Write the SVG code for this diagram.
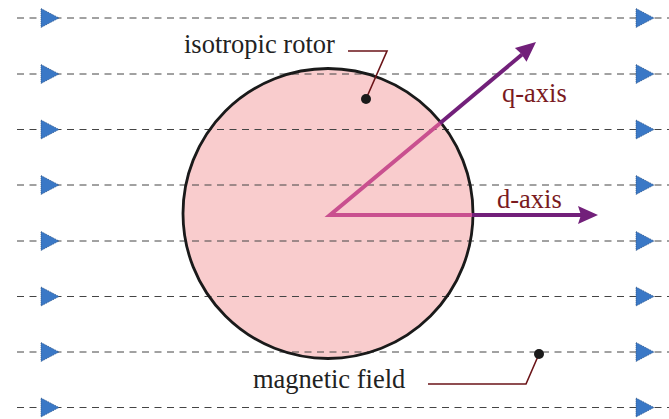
<svg xmlns="http://www.w3.org/2000/svg" width="669" height="419" viewBox="0 0 669 419">
<defs>
<style>
.field{stroke:#444;stroke-width:1;stroke-dasharray:7 5.5;fill:none}
.tri{fill:#3a78c6;stroke:#2a4f80;stroke-width:0.8;stroke-dasharray:1 1}
.lbl{font-family:"Liberation Serif",serif;font-size:26.5px;fill:#222}
.ax{font-family:"Liberation Serif",serif;font-size:26.5px;fill:#7a1a1e}
.lead{stroke:#6b1418;stroke-width:1.6;fill:none}
.pink{stroke:#c9508f;stroke-width:4;fill:none}
.purp{stroke:#72207a;stroke-width:4;fill:none}
</style>
<polygon id="tri" class="tri" points="0,-9.5 18,0 0,9.5"/>
</defs>
<rect width="669" height="419" fill="#fff"/>
<g id="rotor">
<circle cx="328" cy="213.5" r="145" fill="#f9cccd"/>
</g>
<g id="field-lines">
<line class="field" x1="17" y1="18" x2="669" y2="18"/>
<line class="field" x1="17" y1="74" x2="669" y2="74"/>
<line class="field" x1="17" y1="129.5" x2="669" y2="129.5"/>
<line class="field" x1="17" y1="185" x2="669" y2="185"/>
<line class="field" x1="17" y1="241" x2="669" y2="241"/>
<line class="field" x1="17" y1="296.5" x2="669" y2="296.5"/>
<line class="field" x1="17" y1="352" x2="669" y2="352"/>
<line class="field" x1="17" y1="407.5" x2="669" y2="407.5"/>
<use href="#tri" x="41" y="18"/><use href="#tri" x="636" y="18"/>
<use href="#tri" x="41" y="74"/><use href="#tri" x="636" y="74"/>
<use href="#tri" x="41" y="129.5"/><use href="#tri" x="636" y="129.5"/>
<use href="#tri" x="41" y="185"/><use href="#tri" x="636" y="185"/>
<use href="#tri" x="41" y="241"/><use href="#tri" x="636" y="241"/>
<use href="#tri" x="41" y="296.5"/><use href="#tri" x="636" y="296.5"/>
<use href="#tri" x="41" y="352"/><use href="#tri" x="636" y="352"/>
<use href="#tri" x="41" y="407.5"/><use href="#tri" x="636" y="407.5"/>
</g>
<g id="rotor-outline">
<circle cx="328" cy="213.5" r="145" fill="none" stroke="#1a1a1a" stroke-width="2.8"/>
</g>
<g id="connectors">
<polyline class="pink" points="441,122.5 330,215 473,215"/>
<line class="purp" x1="440" y1="123.3" x2="522" y2="54.5"/>
<polygon fill="#72207a" points="536,42 526.5,61.8 521,53.5 514.9,48"/>
<line class="purp" x1="472" y1="215" x2="582" y2="215"/>
<polygon fill="#72207a" points="598,215 578,206 581,215 578,224"/>
<polyline class="lead" points="348,51 387,51 366,99"/>
<circle cx="366" cy="99" r="5" fill="#1a1a1a"/>
<polyline class="lead" points="428,384 526,384 539,354"/>
<circle cx="539" cy="354" r="5" fill="#1a1a1a"/>
</g>
<g id="labels">
<text class="lbl" x="184" y="53">isotropic rotor</text>
<text class="lbl" x="253" y="388">magnetic field</text>
<text class="ax" x="502" y="102">q-axis</text>
<text class="ax" x="497" y="208">d-axis</text>
</g>
</svg>
